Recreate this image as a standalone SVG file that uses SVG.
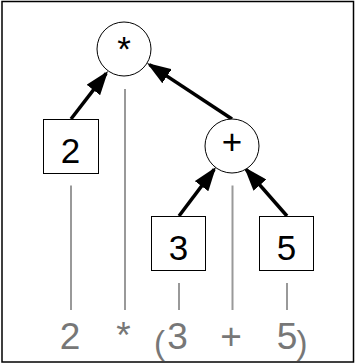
<svg xmlns="http://www.w3.org/2000/svg" width="356" height="364" viewBox="0 0 356 364">
<defs>
<style>
.node{fill:#fff;stroke:#000;stroke-width:1}
.lbl{font-family:"Liberation Sans",Arial,sans-serif;font-size:35px;fill:#000;text-anchor:middle}
.tok{font-family:"Liberation Sans",Arial,sans-serif;font-size:37px;fill:#777;text-anchor:middle}
.par{font-size:33px}
.edge{stroke:#000;stroke-width:3.5;fill:none;marker-end:url(#ah)}
.guide{stroke:#999;stroke-width:2}
</style>
<marker id="ah" markerUnits="userSpaceOnUse" markerWidth="24" markerHeight="17" refX="21" refY="8.5" orient="auto">
<path d="M0,0 L24,8.5 L0,17 z" fill="#000"/>
</marker>
</defs>
<rect x="0" y="0" width="356" height="364" fill="#fff"/>
<g id="guides">
<line class="guide" x1="71" y1="185.5" x2="71" y2="310"/>
<line class="guide" x1="125" y1="89" x2="125" y2="310"/>
<line class="guide" x1="179" y1="283" x2="179" y2="310"/>
<line class="guide" x1="232.5" y1="185.5" x2="232.5" y2="310"/>
<line class="guide" x1="287" y1="283" x2="287" y2="310"/>
</g>
<g id="connectors">
<line class="edge" x1="71" y1="119" x2="106.2" y2="73.4"/>
<line class="edge" x1="232" y1="119" x2="149.5" y2="64.6"/>
<line class="edge" x1="179" y1="216" x2="214.2" y2="169.4"/>
<line class="edge" x1="287" y1="216" x2="246.1" y2="169.3"/>
</g>
<g id="node-mul">
<circle class="node" cx="124" cy="49" r="27"/>
<text class="lbl" x="124" y="61">*</text>
</g>
<g id="node-2">
<rect class="node" x="43.5" y="119.5" width="55" height="54"/>
<text class="lbl" x="70.5" y="163">2</text>
</g>
<g id="node-plus">
<circle class="node" cx="232" cy="146" r="27"/>
<text class="lbl" x="232" y="154">+</text>
</g>
<g id="node-3">
<rect class="node" x="151.5" y="216.5" width="54" height="54"/>
<text class="lbl" x="178.5" y="260">3</text>
</g>
<g id="node-5">
<rect class="node" x="259.5" y="216.5" width="54" height="54"/>
<text class="lbl" x="286.5" y="260">5</text>
</g>
<g id="tokens">
<text class="tok" x="70" y="349">2</text>
<text class="tok" x="123.5" y="348">*</text>
<text class="tok"><tspan class="par" x="159.5" y="353.5">(</tspan><tspan x="177.5" y="349">3</tspan></text>
<text class="tok" x="231" y="349">+</text>
<text class="tok"><tspan x="287" y="349">5</tspan><tspan class="par" x="302" y="353.5">)</tspan></text>
</g>
<rect x="2" y="1.5" width="351.5" height="360.5" fill="none" stroke="#000" stroke-width="1.5"/>
</svg>
